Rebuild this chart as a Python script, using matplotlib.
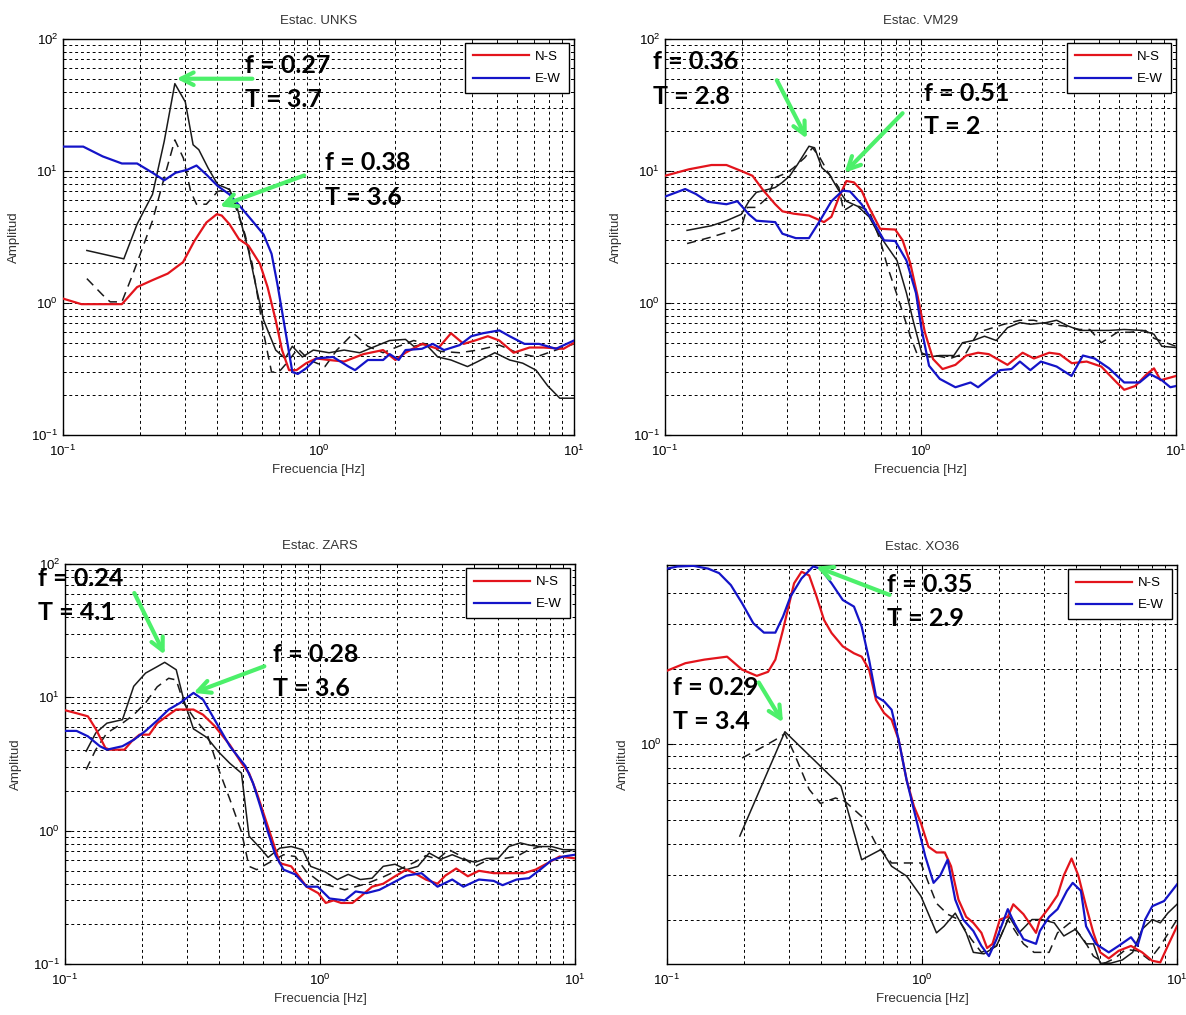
import numpy as np
import matplotlib
matplotlib.use("Agg")
import matplotlib.pyplot as plt
from matplotlib.ticker import LogLocator, NullFormatter, LogFormatterSciNotation

plt.rcParams['font.family'] = ['Liberation Sans', 'DejaVu Sans']
plt.rcParams['mathtext.fontset'] = 'custom'
plt.rcParams['mathtext.rm'] = 'Liberation Sans'
plt.rcParams['mathtext.it'] = 'Liberation Sans'
plt.rcParams['mathtext.default'] = 'regular'

# ---------------- data: Estac. UNKS ----------------
unks_ns_f = [0.1, 0.118, 0.17, 0.195, 0.224, 0.257, 0.295, 0.327, 0.364, 0.4, 0.418, 0.448, 0.488, 0.532, 0.59, 0.632, 0.68, 0.72, 0.767, 0.82, 0.895, 0.98, 1.1, 1.26, 1.5, 1.79, 2.0, 2.19, 2.54, 2.93, 3.3, 3.7, 4.1, 4.6, 5.1, 5.8, 6.7, 7.6, 9.1, 10]
unks_ns_a = [1.08, 0.98, 0.98, 1.32, 1.49, 1.67, 2.04, 2.96, 4.07, 4.71, 4.6, 3.96, 3.05, 2.72, 1.98, 1.32, 0.74, 0.44, 0.31, 0.31, 0.35, 0.38, 0.37, 0.36, 0.41, 0.44, 0.37, 0.42, 0.49, 0.45, 0.59, 0.49, 0.52, 0.56, 0.52, 0.42, 0.46, 0.46, 0.45, 0.5]
unks_ew_f = [0.1, 0.12, 0.143, 0.17, 0.195, 0.224, 0.249, 0.276, 0.306, 0.333, 0.364, 0.403, 0.448, 0.497, 0.55, 0.61, 0.655, 0.69, 0.73, 0.767, 0.79, 0.83, 0.895, 0.98, 1.14, 1.31, 1.39, 1.56, 1.79, 1.9, 2.06, 2.19, 2.54, 2.8, 3.1, 3.57, 3.96, 4.4, 5.1, 5.6, 6.4, 7.3, 8.5, 10]
unks_ew_a = [15.3, 15.3, 12.9, 11.4, 11.4, 9.7, 8.5, 9.7, 10.2, 11.0, 9.4, 7.7, 6.65, 5.3, 4.2, 3.3, 2.36, 1.4, 0.74, 0.42, 0.30, 0.29, 0.32, 0.38, 0.39, 0.33, 0.31, 0.37, 0.37, 0.41, 0.37, 0.44, 0.45, 0.49, 0.44, 0.48, 0.56, 0.59, 0.62, 0.56, 0.49, 0.49, 0.45, 0.52]
unks_k1_f = [0.124, 0.173, 0.195, 0.224, 0.249, 0.274, 0.301, 0.323, 0.34, 0.37, 0.403, 0.448, 0.48, 0.532, 0.57, 0.61, 0.68, 0.74, 0.79, 0.865, 0.955, 1.1, 1.26, 1.45, 1.67, 1.9, 2.19, 2.36, 2.62, 2.93, 3.3, 3.83, 4.2, 4.9, 5.6, 6.3, 7.1, 7.9, 8.8, 10]
unks_k1_a = [2.5, 2.16, 3.96, 6.65, 16.8, 45.9, 33.4, 15.8, 14.5, 10.5, 7.9, 7.26, 5.3, 2.5, 1.32, 0.74, 0.44, 0.38, 0.47, 0.39, 0.44, 0.42, 0.44, 0.42, 0.47, 0.52, 0.53, 0.47, 0.49, 0.39, 0.37, 0.33, 0.36, 0.42, 0.37, 0.35, 0.31, 0.235, 0.19, 0.19]
unks_k2_f = [0.124, 0.143, 0.153, 0.17, 0.188, 0.224, 0.249, 0.274, 0.296, 0.316, 0.333, 0.364, 0.403, 0.448, 0.47, 0.516, 0.55, 0.59, 0.61, 0.632, 0.655, 0.7, 0.75, 0.83, 0.92, 1.06, 1.18, 1.37, 1.56, 1.79, 2.06, 2.36, 2.62, 3.0, 3.57, 4.2, 5.1, 6.0, 7.1, 8.5, 10]
unks_k2_a = [1.53, 1.15, 1.02, 1.02, 1.67, 4.2, 8.9, 17.2, 12.5, 7.0, 5.6, 5.6, 7.0, 7.3, 5.6, 3.3, 1.98, 0.88, 0.59, 0.42, 0.30, 0.30, 0.35, 0.45, 0.37, 0.33, 0.44, 0.59, 0.47, 0.42, 0.47, 0.52, 0.49, 0.43, 0.42, 0.44, 0.48, 0.42, 0.39, 0.44, 0.49]

# ---------------- data: Estac. VM29 ----------------
vm29_ns_f = [0.1, 0.124, 0.152, 0.174, 0.199, 0.22, 0.243, 0.27, 0.288, 0.319, 0.366, 0.419, 0.448, 0.479, 0.513, 0.549, 0.588, 0.629, 0.695, 0.796, 0.851, 0.912, 0.975, 1.04, 1.12, 1.22, 1.37, 1.51, 1.68, 1.85, 1.98, 2.19, 2.51, 2.78, 3.19, 3.5, 3.91, 4.47, 5.1, 5.86, 6.27, 6.93, 7.67, 8.2, 8.7, 10]
vm29_ns_a = [9.2, 10.3, 11.1, 11.1, 10.0, 9.2, 7.1, 5.6, 4.95, 4.75, 4.6, 4.1, 4.5, 6.3, 8.4, 8.2, 7.1, 5.3, 3.65, 3.6, 2.99, 2.0, 1.12, 0.6, 0.376, 0.316, 0.34, 0.4, 0.42, 0.41, 0.38, 0.34, 0.42, 0.38, 0.42, 0.41, 0.35, 0.36, 0.33, 0.25, 0.22, 0.235, 0.288, 0.32, 0.26, 0.28]
vm29_ew_f = [0.1, 0.12, 0.132, 0.147, 0.174, 0.192, 0.213, 0.228, 0.27, 0.288, 0.325, 0.366, 0.404, 0.448, 0.496, 0.53, 0.588, 0.65, 0.72, 0.796, 0.881, 0.96, 1.01, 1.08, 1.19, 1.37, 1.57, 1.68, 1.85, 2.05, 2.27, 2.45, 2.69, 2.96, 3.41, 3.9, 4.32, 4.8, 5.47, 6.27, 7.2, 7.9, 8.8, 9.5, 10]
vm29_ew_a = [6.4, 7.3, 6.7, 5.85, 5.6, 5.9, 4.7, 4.2, 4.1, 3.35, 3.1, 3.1, 4.2, 5.9, 7.1, 7.0, 5.6, 4.2, 2.98, 2.95, 2.1, 1.19, 0.63, 0.335, 0.266, 0.23, 0.25, 0.23, 0.266, 0.31, 0.316, 0.36, 0.31, 0.36, 0.33, 0.28, 0.4, 0.38, 0.32, 0.25, 0.25, 0.29, 0.26, 0.23, 0.235]
vm29_k1_f = [0.122, 0.152, 0.174, 0.199, 0.213, 0.228, 0.243, 0.27, 0.288, 0.308, 0.33, 0.366, 0.385, 0.411, 0.44, 0.479, 0.513, 0.568, 0.629, 0.684, 0.743, 0.809, 0.881, 0.94, 1.01, 1.08, 1.19, 1.35, 1.46, 1.61, 1.78, 1.98, 2.19, 2.45, 2.69, 3.1, 3.41, 3.78, 4.2, 4.8, 5.47, 6.27, 7.4, 8.2, 8.8, 10]
vm29_k1_a = [3.55, 3.85, 4.2, 4.7, 5.9, 6.9, 7.1, 7.5, 8.2, 9.2, 11.2, 15.4, 15.0, 10.6, 9.4, 7.1, 5.9, 5.4, 4.5, 3.35, 2.66, 2.1, 1.19, 0.71, 0.42, 0.39, 0.4, 0.4, 0.5, 0.52, 0.56, 0.52, 0.65, 0.71, 0.69, 0.71, 0.74, 0.67, 0.62, 0.62, 0.62, 0.63, 0.62, 0.58, 0.47, 0.46]
vm29_k2_f = [0.122, 0.152, 0.185, 0.199, 0.21, 0.228, 0.252, 0.27, 0.3, 0.319, 0.352, 0.378, 0.404, 0.44, 0.479, 0.5, 0.549, 0.629, 0.695, 0.743, 0.821, 0.912, 0.975, 1.04, 1.14, 1.31, 1.51, 1.68, 1.92, 2.12, 2.45, 2.78, 3.19, 3.64, 4.2, 4.6, 5.1, 5.9, 6.6, 7.6, 8.2, 10]
vm29_k2_a = [2.82, 3.16, 3.55, 3.75, 5.3, 5.3, 6.3, 8.9, 9.7, 10.6, 12.6, 15.0, 12.6, 9.4, 7.5, 5.0, 5.6, 5.0, 3.0, 1.88, 1.06, 0.56, 0.4, 0.41, 0.4, 0.38, 0.42, 0.6, 0.65, 0.69, 0.74, 0.74, 0.69, 0.67, 0.63, 0.63, 0.5, 0.6, 0.6, 0.62, 0.54, 0.47]

# ---------------- data: Estac. ZARS ----------------
zars_ns_f = [0.1, 0.111, 0.123, 0.132, 0.144, 0.15, 0.171, 0.183, 0.196, 0.214, 0.23, 0.255, 0.273, 0.319, 0.348, 0.386, 0.443, 0.492, 0.527, 0.565, 0.606, 0.649, 0.696, 0.771, 0.826, 0.886, 0.984, 1.053, 1.13, 1.21, 1.34, 1.44, 1.6, 1.77, 1.97, 2.18, 2.35, 2.6, 2.89, 3.1, 3.42, 3.8, 4.2, 4.8, 5.5, 6.3, 7.0, 7.8, 8.7, 10]
zars_ns_a = [8.0, 7.6, 7.2, 5.8, 4.17, 4.05, 4.05, 4.7, 5.25, 5.25, 6.4, 7.4, 8.1, 8.1, 7.4, 6.1, 4.4, 3.22, 2.7, 1.92, 1.28, 0.86, 0.57, 0.54, 0.455, 0.38, 0.34, 0.287, 0.3, 0.287, 0.287, 0.32, 0.38, 0.4, 0.455, 0.51, 0.48, 0.43, 0.4, 0.46, 0.52, 0.455, 0.5, 0.48, 0.48, 0.48, 0.51, 0.57, 0.64, 0.62]
zars_ew_f = [0.1, 0.111, 0.123, 0.137, 0.146, 0.168, 0.186, 0.207, 0.23, 0.255, 0.283, 0.319, 0.348, 0.386, 0.443, 0.51, 0.546, 0.583, 0.626, 0.67, 0.72, 0.8, 0.886, 0.98, 1.09, 1.25, 1.38, 1.52, 1.71, 1.9, 2.18, 2.5, 2.89, 3.3, 3.65, 4.2, 4.8, 5.2, 5.9, 6.6, 7.3, 8.1, 9.0, 10]
zars_ew_a = [5.6, 5.6, 5.1, 4.3, 4.05, 4.3, 4.8, 5.6, 6.7, 8.1, 9.1, 10.8, 9.6, 6.8, 4.3, 3.05, 2.28, 1.53, 0.97, 0.65, 0.51, 0.47, 0.38, 0.38, 0.31, 0.3, 0.35, 0.34, 0.36, 0.4, 0.46, 0.48, 0.38, 0.43, 0.38, 0.43, 0.42, 0.39, 0.43, 0.44, 0.51, 0.6, 0.64, 0.66]
zars_k1_f = [0.121, 0.132, 0.146, 0.168, 0.186, 0.207, 0.23, 0.246, 0.273, 0.292, 0.319, 0.36, 0.4, 0.443, 0.492, 0.527, 0.583, 0.626, 0.696, 0.771, 0.855, 0.919, 1.05, 1.17, 1.29, 1.44, 1.6, 1.77, 1.97, 2.18, 2.42, 2.68, 2.97, 3.3, 3.65, 4.06, 4.5, 5.0, 5.5, 6.1, 6.6, 7.3, 8.1, 9.0, 10]
zars_k1_a = [3.94, 5.4, 6.4, 6.8, 12.1, 15.2, 17.0, 18.3, 16.1, 9.6, 5.8, 5.0, 3.9, 3.2, 2.7, 0.91, 0.74, 0.63, 0.74, 0.76, 0.72, 0.54, 0.49, 0.43, 0.47, 0.43, 0.44, 0.54, 0.56, 0.51, 0.54, 0.68, 0.61, 0.66, 0.61, 0.58, 0.62, 0.62, 0.76, 0.81, 0.78, 0.76, 0.76, 0.72, 0.72]
zars_k2_f = [0.121, 0.132, 0.146, 0.168, 0.186, 0.207, 0.23, 0.255, 0.273, 0.292, 0.324, 0.36, 0.4, 0.443, 0.492, 0.527, 0.565, 0.626, 0.72, 0.8, 0.886, 1.02, 1.13, 1.25, 1.38, 1.52, 1.77, 2.04, 2.35, 2.6, 2.89, 3.2, 3.55, 4.06, 4.6, 5.3, 5.9, 6.6, 7.3, 8.1, 9.0, 10]
zars_k2_a = [2.87, 4.05, 5.4, 6.4, 7.4, 9.1, 12.0, 13.9, 13.5, 9.1, 6.8, 5.4, 2.9, 1.72, 0.98, 0.54, 0.51, 0.57, 0.66, 0.64, 0.49, 0.4, 0.38, 0.36, 0.38, 0.4, 0.45, 0.51, 0.58, 0.65, 0.61, 0.72, 0.65, 0.54, 0.61, 0.62, 0.64, 0.72, 0.76, 0.72, 0.69, 0.72]

# ---------------- data: Estac. XO36 ----------------
xo36_ns_f = [0.1, 0.118, 0.14, 0.172, 0.197, 0.225, 0.249, 0.266, 0.285, 0.315, 0.337, 0.361, 0.386, 0.413, 0.442, 0.489, 0.541, 0.58, 0.62, 0.66, 0.71, 0.76, 0.81, 0.87, 0.93, 0.99, 1.06, 1.14, 1.23, 1.3, 1.39, 1.49, 1.59, 1.71, 1.8, 1.89, 2.02, 2.17, 2.28, 2.5, 2.8, 2.9, 3.15, 3.4, 3.6, 3.86, 4.1, 4.4, 4.7, 5.0, 5.4, 5.9, 6.6, 7.3, 8.0, 8.6, 9.2, 10]
xo36_ns_a = [1.96, 2.1, 2.17, 2.23, 1.98, 1.87, 1.94, 2.17, 2.85, 4.37, 4.86, 4.7, 3.87, 3.12, 2.77, 2.45, 2.3, 2.23, 1.98, 1.5, 1.33, 1.25, 1.04, 0.72, 0.565, 0.485, 0.39, 0.37, 0.37, 0.326, 0.24, 0.205, 0.194, 0.177, 0.154, 0.16, 0.2, 0.205, 0.23, 0.21, 0.177, 0.2, 0.223, 0.25, 0.3, 0.35, 0.3, 0.226, 0.177, 0.148, 0.14, 0.15, 0.157, 0.148, 0.137, 0.135, 0.157, 0.188]
xo36_ew_f = [0.1, 0.11, 0.127, 0.145, 0.16, 0.178, 0.197, 0.218, 0.24, 0.266, 0.285, 0.305, 0.337, 0.374, 0.4, 0.442, 0.489, 0.541, 0.58, 0.62, 0.66, 0.71, 0.76, 0.81, 0.87, 0.95, 1.03, 1.11, 1.18, 1.26, 1.35, 1.45, 1.59, 1.71, 1.83, 1.96, 2.17, 2.3, 2.5, 2.8, 2.9, 3.15, 3.4, 3.7, 3.9, 4.2, 4.4, 4.8, 5.4, 5.9, 6.6, 7.0, 7.5, 8.0, 8.9, 10]
xo36_ew_a = [5.0, 5.1, 5.13, 5.0, 4.8, 4.3, 3.64, 3.03, 2.78, 2.78, 3.22, 3.87, 4.57, 5.1, 5.0, 4.37, 3.75, 3.53, 2.94, 2.17, 1.55, 1.48, 1.37, 1.04, 0.72, 0.5, 0.357, 0.28, 0.3, 0.346, 0.24, 0.2, 0.18, 0.157, 0.143, 0.167, 0.22, 0.194, 0.167, 0.16, 0.18, 0.205, 0.22, 0.26, 0.28, 0.26, 0.188, 0.16, 0.148, 0.157, 0.17, 0.157, 0.2, 0.226, 0.237, 0.276]
xo36_k1_f = [0.193, 0.29, 0.481, 0.58, 0.69, 0.76, 0.87, 0.99, 1.14, 1.22, 1.35, 1.49, 1.59, 1.75, 1.96, 2.2, 2.4, 2.7, 2.95, 3.3, 3.6, 4.0, 4.4, 4.7, 5.0, 5.5, 6.1, 6.7, 7.3, 8.0, 8.6, 9.2, 10]
xo36_k1_a = [0.43, 1.12, 0.68, 0.346, 0.38, 0.326, 0.298, 0.248, 0.177, 0.188, 0.212, 0.177, 0.148, 0.146, 0.157, 0.205, 0.177, 0.2, 0.2, 0.194, 0.172, 0.183, 0.16, 0.16, 0.134, 0.134, 0.138, 0.148, 0.183, 0.2, 0.194, 0.212, 0.23]
xo36_k2_f = [0.197, 0.24, 0.266, 0.29, 0.315, 0.361, 0.4, 0.458, 0.5, 0.58, 0.66, 0.76, 0.87, 0.99, 1.06, 1.14, 1.26, 1.39, 1.56, 1.71, 1.96, 2.17, 2.5, 2.75, 3.15, 3.4, 3.8, 4.3, 4.7, 5.2, 5.7, 6.3, 7.0, 7.8, 8.6, 10]
xo36_k2_a = [0.88, 0.98, 1.04, 1.1, 0.92, 0.66, 0.58, 0.61, 0.59, 0.515, 0.4, 0.336, 0.336, 0.336, 0.28, 0.232, 0.21, 0.2, 0.167, 0.148, 0.157, 0.2, 0.16, 0.148, 0.148, 0.177, 0.194, 0.167, 0.143, 0.134, 0.14, 0.152, 0.15, 0.138, 0.157, 0.2]

titles = ["Estac. UNKS", "Estac. VM29", "Estac. ZARS", "Estac. XO36"]
legend_labels = ["N-S", "E-W"]
ylims = [(0.1, 100), (0.1, 100), (0.1, 100), (0.133, 5.17)]

# annotation labels (text, axes-fraction position) and arrows (tail, head in data coords)
notes = [
    [("f = 0.27", 0.356, 0.933), ("T = 3.7", 0.356, 0.848), ("f = 0.38", 0.512, 0.687), ("T = 3.6", 0.512, 0.601)],
    [("f = 0.36", -0.024, 0.942), ("T = 2.8", -0.024, 0.856), ("f = 0.51", 0.506, 0.8625), ("T = 2", 0.506, 0.779)],
    [("f = 0.24", -0.053, 0.9625), ("T = 4.1", -0.053, 0.879), ("f = 0.28", 0.4075, 0.773), ("T = 3.6", 0.4075, 0.69)],
    [("f = 0.35", 0.431, 0.95), ("T = 2.9", 0.431, 0.866), ("f = 0.29", 0.011, 0.694), ("T = 3.4", 0.011, 0.608)],
]
arrows = [
    [((0.551, 50), (0.278, 50)), ((0.879, 9.25), (0.411, 5.4))],
    [((0.274, 48.7), (0.359, 17.6)), ((0.851, 27.4), (0.504, 9.7))],
    [((0.187, 60.6), (0.246, 20.9)), ((0.605, 17.1), (0.319, 10.8))],
    [((0.746, 3.93), (0.384, 5.09)), ((0.229, 1.76), (0.285, 1.22))],
]

panels = [
    (unks_ns_f, unks_ns_a, unks_ew_f, unks_ew_a, unks_k1_f, unks_k1_a, unks_k2_f, unks_k2_a),
    (vm29_ns_f, vm29_ns_a, vm29_ew_f, vm29_ew_a, vm29_k1_f, vm29_k1_a, vm29_k2_f, vm29_k2_a),
    (zars_ns_f, zars_ns_a, zars_ew_f, zars_ew_a, zars_k1_f, zars_k1_a, zars_k2_f, zars_k2_a),
    (xo36_ns_f, xo36_ns_a, xo36_ew_f, xo36_ew_a, xo36_k1_f, xo36_k1_a, xo36_k2_f, xo36_k2_a),
]

W, H = 1186, 1015
fig = plt.figure(figsize=(W / 100, H / 100), dpi=100, facecolor='white')
# axes boxes in pixels: left, top, right, bottom
boxes = [(63, 39, 574, 435), (665, 39, 1176, 435), (65, 564, 575, 964), (667, 565, 1177, 964)]

RED = '#e3141c'
BLUE = '#1414c8'
BLACK = '#1a1a1a'
GREEN = '#4cf06a'

for i, (l, t, r, b) in enumerate(boxes):
    ax = fig.add_axes([l / W, 1 - b / H, (r - l) / W, (b - t) / H])
    nsf, nsa, ewf, ewa, k1f, k1a, k2f, k2a = panels[i]
    ax.plot(k2f, k2a, color=BLACK, lw=1.1, dashes=(6, 4), zorder=3)
    ax.plot(k1f, k1a, color=BLACK, lw=1.1, zorder=3)
    ax.plot(nsf, nsa, color=RED, lw=1.6, label=legend_labels[0], zorder=4)
    ax.plot(ewf, ewa, color=BLUE, lw=1.6, label=legend_labels[1], zorder=4)
    ax.set_xscale('log')
    ax.set_yscale('log')
    ax.set_xlim(0.1, 10)
    ax.set_ylim(*ylims[i])
    ax.xaxis.set_major_locator(LogLocator(base=10, numticks=10))
    ax.yaxis.set_major_locator(LogLocator(base=10, numticks=10))
    ax.xaxis.set_minor_locator(LogLocator(base=10, subs=np.arange(2, 10), numticks=20))
    ax.yaxis.set_minor_locator(LogLocator(base=10, subs=np.arange(2, 10), numticks=20))
    ax.xaxis.set_minor_formatter(NullFormatter())
    ax.yaxis.set_minor_formatter(NullFormatter())
    ax.xaxis.set_major_formatter(LogFormatterSciNotation())
    ax.yaxis.set_major_formatter(LogFormatterSciNotation())
    ax.grid(True, which='both', color='black', linestyle=(0, (3, 3)), linewidth=0.7, zorder=1)
    ax.set_axisbelow(True)
    ax.tick_params(which='both', direction='in', top=True, right=True, labelsize=9.5, colors='black')
    ax.tick_params(which='major', length=4)
    ax.tick_params(which='minor', length=2)
    ax.tick_params(axis='x', pad=6)
    for s in ax.spines.values():
        s.set_linewidth(1.0)
        s.set_color('black')
    ax.set_title(titles[i], fontsize=9.5, pad=11, color='#333333')
    ax.set_xlabel('Frecuencia [Hz]', fontsize=9.5, labelpad=4, color='#333333')
    ax.set_ylabel('Amplitud', fontsize=9.5, labelpad=8, color='#333333')
    leg = ax.legend(loc='upper right', bbox_to_anchor=(0.99, 0.99), borderaxespad=0,
                    fontsize=9.5, handlelength=4.2, handletextpad=0.5, fancybox=False,
                    framealpha=1, edgecolor='black', borderpad=0.6, labelspacing=0.75)
    leg.get_frame().set_linewidth(1.0)
    leg.set_zorder(6)
    for txt, xf, yf in notes[i]:
        ax.text(xf, yf, txt, transform=ax.transAxes, ha='left', va='center',
                fontsize=18, fontweight='bold', family=['Lato', 'DejaVu Sans'],
                color='black', zorder=7, clip_on=False)
    for (tail, head) in arrows[i]:
        ax.annotate('', xy=head, xytext=tail, xycoords='data', textcoords='data',
                    arrowprops=dict(arrowstyle='->,head_length=0.9,head_width=0.45',
                                    color=GREEN, lw=3, shrinkA=0, shrinkB=0),
                    zorder=8, annotation_clip=False)

fig.savefig('out.png', dpi=100, facecolor='white')
